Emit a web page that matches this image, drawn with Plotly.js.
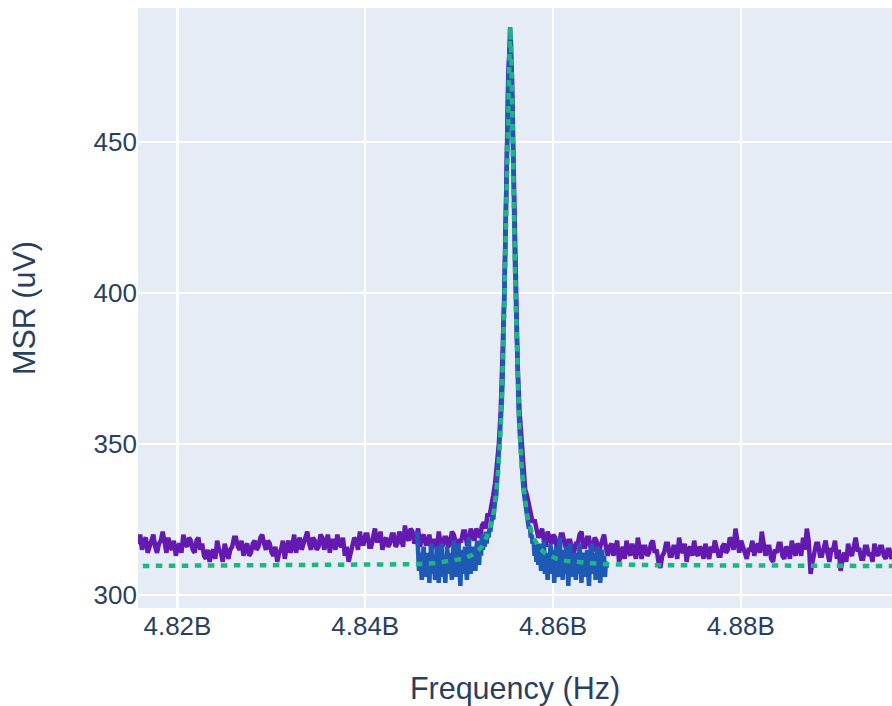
<!DOCTYPE html>
<html>
<head>
<meta charset="utf-8">
<script src="https://cdn.plot.ly/plotly-3.0.1.min.js"></script>
<style>html,body{margin:0;padding:0;background:#fff;}#chart{width:892px;height:706px;}</style>
</head>
<body>
<div id="chart"></div>
<script>
// Wide sweep (purple): uniform frequency sweep
var wideStartHz = 4.81503e9;
var wideStepHz = 0.2e6;
var wideMSR = [
318,315,322,319,317,320,315,318,319,314,316,319,320,316,314,317,318,321,317,314,
319,316,315,318,313,316,317,314,320,317,316,319,318,315,314,318,319,315,317,313,
312,315,311,314,315,312,318,315,314,311,317,314,312,315,316,319,319,316,315,318,
313,316,317,313,314,317,318,315,316,319,320,317,315,318,317,314,313,316,311,314,
315,318,312,316,318,314,316,320,314,317,319,315,317,320,321,317,315,319,318,315,
316,320,319,315,317,320,314,318,318,315,320,317,316,319,313,316,311,314,316,319,
318,315,321,317,317,320,320,316,316,319,322,318,318,321,315,318,319,316,317,320,
320,316,317,321,319,316,323,319,318,322,321,317,
319,322,316,319,320,317,317,320,315,318,318,315,321,317,316,319,319,316,317,321,320,317,315,318,318,321,321,317,
317,322,320,318,322,320,319,323,324,322,327,326,331,333,337,342,350,361,378,401,436,472,
484,
472,438,401,376,361,351,342,335,333,330,327,324,325,322,319,320,322,318,316,321,319,317,320,
319,315,316,320,320,317,315,318,318,315,314,317,317,320,321,316,316,319,319,315,315,319,318,314,316,319,320,316,
313,316,317,313,315,318,311,314,316,312,318,315,313,317,315,312,319,315,312,316,
316,313,314,317,318,314,315,311,309,313,314,317,317,313,313,316,316,312,319,315,
314,317,311,315,316,313,318,314,313,316,315,312,317,314,312,316,314,318,316,313,
313,316,317,314,315,319,318,315,322,317,314,318,316,313,312,315,315,318,313,316,
317,314,321,317,313,316,316,312,311,315,314,317,317,313,312,316,315,312,318,315,
313,317,316,313,319,315,322,318,307,311,314,317,317,313,313,316,318,314,311,315,
315,318,312,315,308,312,314,311,317,314,313,316,319,315,315,312,312,316,316,313,
314,311,317,314,313,316,316,313,312,315,315,312,314
];

// Narrow sweep (blue)
var narrowStartHz = 4.84553e9;
var narrowStepHz = 0.1e6;
var narrowMSR = [
321,312,308,314,310,305,313,316,309,311,
306,314,311,304,312,317,310,307,313,305,
311,316,309,304,312,310,317,306,313,308,
304,312,316,310,307,314,311,305,313,318,
310,306,313,308,317,312,303,311,315,307,
312,316,309,305,313,319,311,307,314,309,
316,312,308,315,318,313,310,317,313,320,
315,318,316,321,317,321,319,322,321,324,
326,325,329,331,332,337,339,345,348,356,
363,371,384,396,413,430,451,469,483,
488,
482,470,450,432,412,397,382,372,362,
355,349,343,340,336,333,331,328,327,325,
322,323,319,320,317,318,313,317,311,316,
310,317,313,308,315,312,318,307,314,311,
305,313,310,317,312,307,315,304,311,316,
309,306,313,319,308,312,305,315,311,307,
316,310,303,312,317,308,311,306,314,310,
305,314,311,307,317,310,304,312,308,314,
311,306,315,308,303,312,310,317,307,311,
314,305,310,316,307,312,304,311,315,308,
313,306,311,309
];

// Lorentzian fit (green dotted)
var fitFreqHz = [
4.81493e9,4.82543e9,4.83543e9,4.84043e9,4.84543e9,4.84743e9,4.84943e9,4.85043e9,4.85143e9,4.85193e9,
4.85243e9,4.85293e9,4.85318e9,4.85343e9,4.85368e9,4.85393e9,4.85418e9,4.85443e9,4.85463e9,4.85483e9,
4.85493e9,4.85503e9,4.85513e9,4.85523e9,4.85533e9,4.85543e9,
4.85553e9,4.85563e9,4.85573e9,4.85583e9,4.85593e9,4.85603e9,4.85623e9,4.85643e9,4.85668e9,4.85693e9,
4.85718e9,4.85743e9,4.85768e9,4.85793e9,4.85843e9,4.85893e9,4.85943e9,4.86043e9,4.86143e9,4.86343e9,
4.86543e9,4.87043e9,4.87543e9,4.88543e9,4.89613e9
];
var fitMSR = [
309.6,309.7,309.8,309.9,310.2,310.6,311.3,312.0,313.3,314.4,
316.1,318.9,320.9,323.7,327.5,333.2,341.7,355.1,371.8,396.5,
412.7,431.2,450.9,469.3,482.9,488.0,
482.9,469.3,450.9,431.2,412.7,396.5,371.8,355.1,341.7,333.2,
327.5,323.7,320.9,318.9,316.1,314.4,313.3,312.0,311.3,310.6,
310.2,309.9,309.8,309.7,309.6
];

var xTitle = 'Frequency (Hz)';
var yTitle = 'MSR (uV)';

var wideFreq = wideMSR.map(function(_, i){ return wideStartHz + i * wideStepHz; });
var narrowFreq = narrowMSR.map(function(_, i){ return narrowStartHz + i * narrowStepHz; });

var traces = [
  {x: wideFreq, y: wideMSR, type: 'scatter', mode: 'lines',
   line: {color: '#6419b0', width: 4.5}, showlegend: false},
  {x: narrowFreq, y: narrowMSR, type: 'scatter', mode: 'lines',
   line: {color: '#1e59b6', width: 4.5}, showlegend: false},
  {x: fitFreqHz, y: fitMSR, type: 'scatter', mode: 'lines',
   line: {color: '#1fb583', width: 4.5, dash: '6.5px,6.5px'}, showlegend: false}
];

var layout = {
  width: 892, height: 706,
  margin: {l: 138, r: 0, t: 8, b: 98},
  paper_bgcolor: '#ffffff',
  plot_bgcolor: '#E5ECF6',
  font: {family: 'Liberation Sans, Arial, sans-serif', color: '#2a3f5f', size: 26},
  showlegend: false,
  xaxis: {
    range: [4.8158e9, 4.8961e9],
    tickvals: [4.82e9, 4.84e9, 4.86e9, 4.88e9],
    ticktext: ['4.82B', '4.84B', '4.86B', '4.88B'],
    gridcolor: '#ffffff', gridwidth: 2.2, showline: false, zeroline: false,
    tickfont: {size: 26},
    title: {text: xTitle, font: {size: 30.5}}
  },
  yaxis: {
    range: [295.7, 494.4],
    tickvals: [300, 350, 400, 450],
    gridcolor: '#ffffff', gridwidth: 2.2, showline: false, zeroline: false,
    tickfont: {size: 26},
    title: {text: yTitle, font: {size: 30.5}, standoff: 48}
  }
};

Plotly.newPlot('chart', traces, layout, {displayModeBar: false, staticPlot: true});
</script>
</body>
</html>
